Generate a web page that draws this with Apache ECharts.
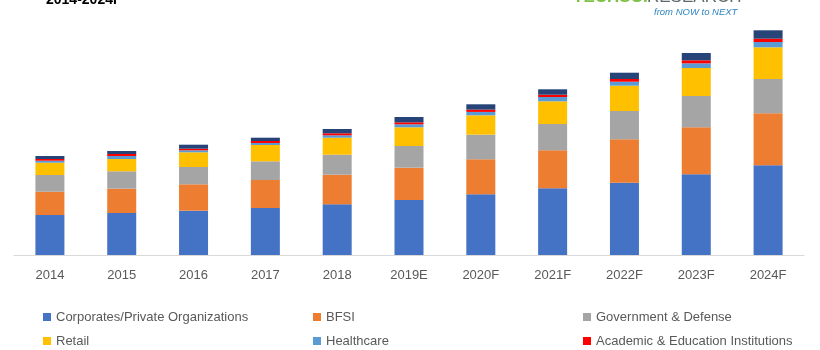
<!DOCTYPE html>
<html>
<head>
<meta charset="utf-8">
<script src="https://cdn.jsdelivr.net/npm/echarts@6/dist/echarts.min.js"></script>
<style>html,body{margin:0;padding:0;background:#fff}#c{width:820px;height:350px}</style>
</head>
<body>
<div id="c"></div>
<script>
var categories = ['2014','2015','2016','2017','2018','2019E','2020F','2021F','2022F','2023F','2024F'];
var corporates = [40, 42, 44.3, 47, 50.7, 55, 60.7, 66.7, 72.3, 80.7, 89.7];
var bfsi = [23.3, 24.3, 26.4, 28, 29.6, 32.3, 35, 38, 43.4, 47, 52];
var government = [16.7, 17.4, 17.3, 18.7, 20, 21.7, 24.7, 26.3, 28.3, 31.3, 34.3];
var retail = [12.3, 12.3, 14.7, 16.3, 17, 18.7, 19.3, 22.7, 25.3, 28, 31.7];
var healthcare = [2, 3, 2, 2, 2.4, 3, 3.4, 4.3, 4, 4.7, 5.3];
var academic = [1.7, 2, 1.6, 2, 2, 2, 2.3, 2.3, 2.7, 3, 3.3];
var others = [3, 3, 4, 3.3, 4.3, 5.3, 5.3, 5.4, 6.3, 7.3, 8.4];

var seriesNames = ['Corporates/Private Organizations','BFSI','Government & Defense','Retail','Healthcare','Academic & Education Institutions','Others'];
var seriesData = [corporates, bfsi, government, retail, healthcare, academic, others];
var colors = ['#4472C4','#ED7D31','#A5A5A5','#FFC000','#5B9BD5','#FF0000','#264478'];

var chart = echarts.init(document.getElementById('c'), null, {renderer:'canvas'});
var font = 'Liberation Sans';
var legendLefts = [43, 313, 583];
var legendTops = [309, 333];
function legendAt(idx){
  return {
    orient:'horizontal', left:legendLefts[idx % 3], top:legendTops[Math.floor(idx / 3)],
    data:[seriesNames[idx]], selectedMode:false, padding:0,
    itemWidth:8, itemHeight:8, icon:'rect',
    textStyle:{color:'#595959', fontSize:13, fontFamily:font, lineHeight:16}
  };
}
chart.setOption({
  animation:false,
  color:colors,
  grid:{left:14, right:16, top:25, bottom:95},
  legend:[0,1,2,3,4,5].map(legendAt),
  xAxis:{
    type:'category', data:categories,
    axisLine:{lineStyle:{color:'#d9d9d9', width:1}},
    axisTick:{show:false},
    axisLabel:{color:'#595959', fontSize:13, fontFamily:font, margin:14}
  },
  yAxis:{type:'value', min:0, max:230, show:false, splitLine:{show:false}},
  series: seriesNames.map(function(n,i){
    return {name:n, type:'bar', stack:'total', barWidth:29, data:seriesData[i], itemStyle:{color:colors[i]}};
  }),
  graphic:[
    {type:'text', left:46, top:-7, style:{text:'2014-2024F', font:'bold 14px "Liberation Sans"', fill:'#000'}},
    {type:'text', left:573, top:-11, style:{text:'TECHSCI', font:'bold 17px "Liberation Sans"', fill:'#7DC242'}},
    {type:'text', left:647, top:-11, style:{text:'RESEARCH', font:'17px "Liberation Sans"', fill:'#5d6a6c'}},
    {type:'text', left:654, top:7, style:{text:'from NOW to NEXT', font:'italic 9.5px "Liberation Sans"', fill:'#2E86C1'}}
  ]
});
</script>
</body>
</html>
